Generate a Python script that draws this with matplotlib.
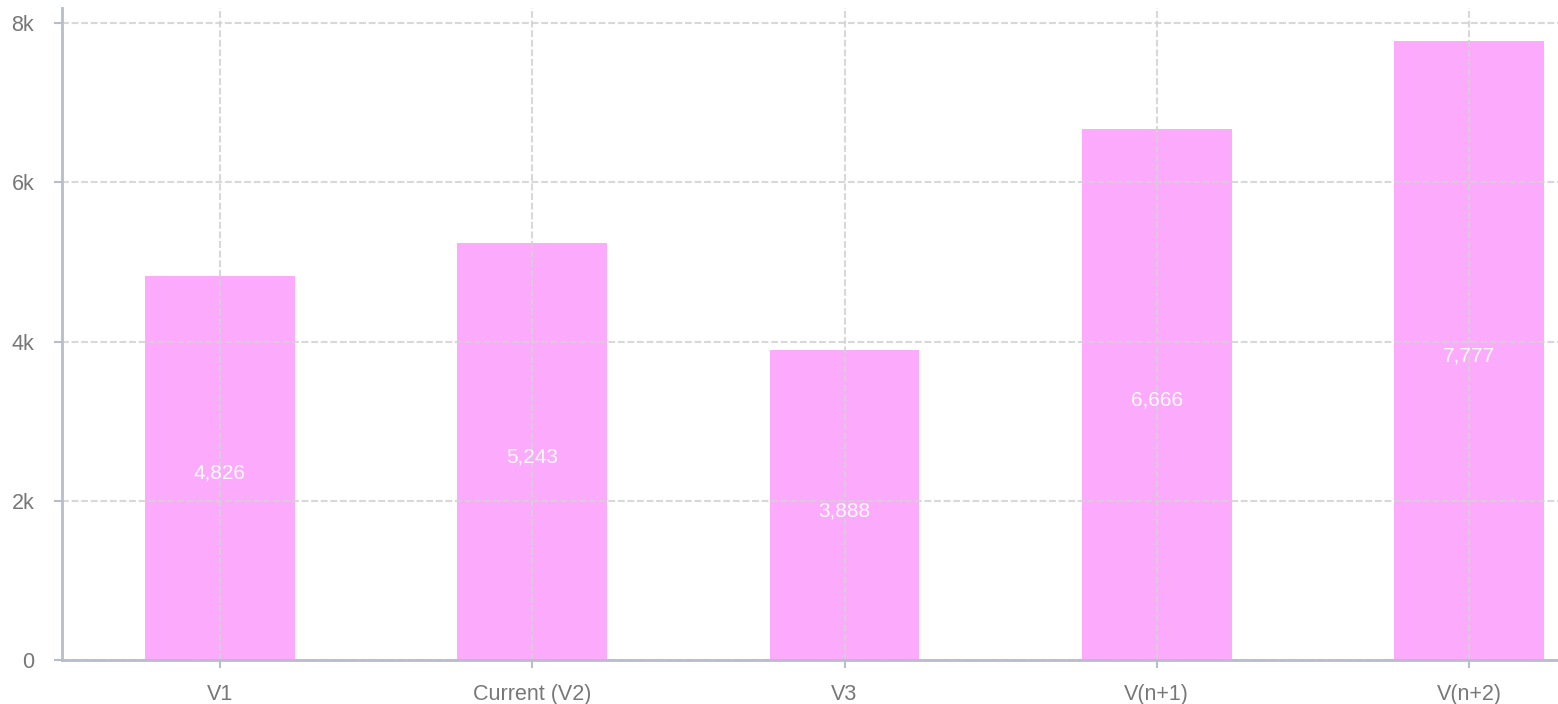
import matplotlib
matplotlib.use("Agg")
import matplotlib.pyplot as plt
from matplotlib.ticker import FuncFormatter

categories = ["V1", "Current (V2)", "V3", "V(n+1)", "V(n+2)"]
values = [4826, 5243, 3888, 6666, 7777]
yticks = [0, 2000, 4000, 6000, 8000]

plt.rcParams['font.family'] = ['Liberation Sans', 'DejaVu Sans']

fig = plt.figure(figsize=(15.58, 7.04), dpi=100)
ax = fig.add_axes([62/1558, 1 - 660/704, 1 - 62/1558, (660 - 8)/704])

x = list(range(len(categories)))
bars = ax.bar(x, values, width=0.48, color="#fcabfc", zorder=1)

for xi, v in zip(x, values):
    ax.annotate(f"{v:,}", (xi, v / 2), xytext=(0, -4), textcoords="offset points",
                ha="center", va="center", color="white", fontsize=15,
                alpha=0.95, zorder=5)

ax.set_xlim(-0.506, 4.285)
ax.set_ylim(0, 8190)
ax.set_xticks(x)
ax.set_xticklabels(categories)
ax.set_yticks(yticks)
ax.yaxis.set_major_formatter(FuncFormatter(lambda v, p: "0" if v == 0 else f"{int(v/1000)}k"))

ax.grid(True, color="#d2d2d2", linestyle=(0, (3.3, 1.3)), linewidth=1.5, zorder=3, alpha=0.85)
ax.set_axisbelow(False)
for s in ["top", "right"]:
    ax.spines[s].set_visible(False)
for s in ["left", "bottom"]:
    ax.spines[s].set_color("#b8bccb")
    ax.spines[s].set_linewidth(2)
    ax.spines[s].set_zorder(6)
ax.tick_params(axis="both", colors="#b8bccb", length=6, width=1.5, labelcolor="#777777", labelsize=15.5)
ax.tick_params(axis="x", pad=11)
ax.tick_params(axis="y", pad=14)

fig.savefig("out.png", dpi=100, facecolor="white")
